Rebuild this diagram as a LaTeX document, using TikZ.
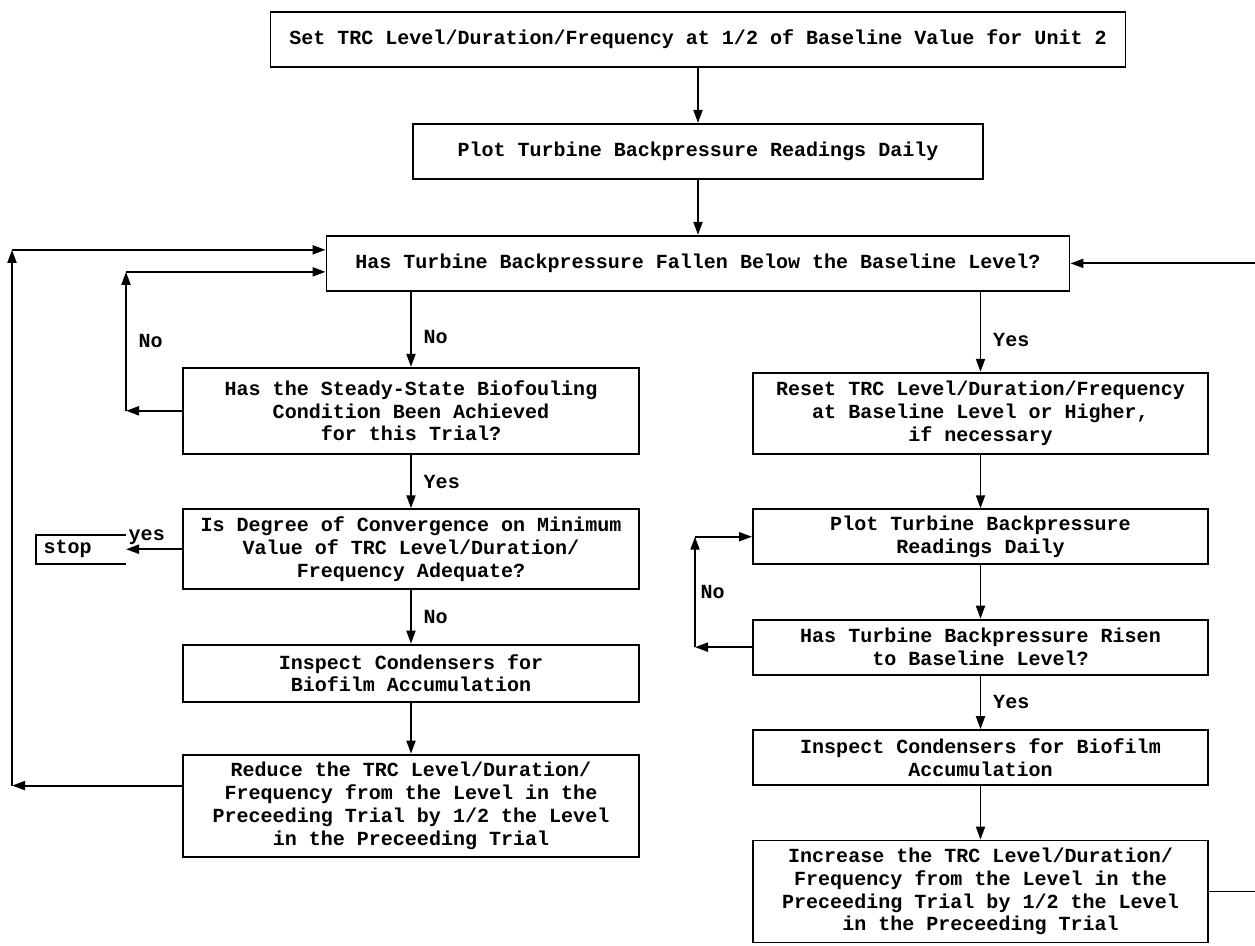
\documentclass[tikz,border=0pt]{standalone}
\usepackage{fontspec}
\setmonofont{Liberation Mono}
\usepackage{tikz}
\usetikzlibrary{arrows.meta, positioning}

\tikzstyle{flowbox} = [rectangle, draw=black, line width=1.1pt,
minimum height=1.1cm, inner xsep=0.2cm, inner ysep=0.1cm,
align=center, font=\ttfamily\bfseries\fontsize{11.4}{13}\selectfont]
\tikzstyle{stopbox} = [rectangle, inner xsep=0.14cm, inner ysep=0pt,
minimum height=0.56cm, text width=1.5cm, align=left,
font=\ttfamily\bfseries\fontsize{11.4}{13}\selectfont]
\tikzstyle{tag} = [inner sep=1pt, font=\ttfamily\bfseries\fontsize{11.4}{13}\selectfont]
\tikzstyle{arrow} = [-{Triangle[length=2.6mm, width=1.8mm]}, line width=1.1pt]

\begin{document}
\begin{tikzpicture}[node distance=1.07cm]
    \useasboundingbox (0,0) rectangle (25.1,-18.92);

    \node (set) [flowbox, minimum width=17.1cm] at (13.96,-0.79)
    {Set TRC Level/Duration/Frequency at 1/2 of Baseline Value for Unit 2};
    \node (plot) [flowbox, below=1.1cm of set, minimum width=11.4cm]
    {Plot Turbine Backpressure Readings Daily};
    \node (fall) [flowbox, below=1.1cm of plot, minimum width=14.86cm]
    {Has Turbine Backpressure Fallen Below the Baseline Level?};

    % left branch
    \node (steady) [flowbox, below=1.5cm of fall, xshift=-5.74cm, minimum width=9.12cm, minimum height=1.72cm]
    {Has the Steady-State Biofouling\\Condition Been Achieved\\for this Trial?};
    \node (conv) [flowbox, below=of steady, minimum width=9.12cm, minimum height=1.6cm]
    {Is Degree of Convergence on Minimum\\Value of TRC Level/Duration/\\Frequency Adequate?};
    \node (insl) [flowbox, below=of conv, minimum width=9.12cm, minimum height=1.14cm]
    {Inspect Condensers for\\Biofilm Accumulation};
    \node (red) [flowbox, below=1.02cm of insl, minimum width=9.12cm, minimum height=2.04cm]
    {Reduce the TRC Level/Duration/\\Frequency from the Level in the\\Preceeding Trial by 1/2 the Level\\in the Preceeding Trial};
    \node (stop) [stopbox, left=1.12cm of conv] {stop};

    % right branch
    \node (reset) [flowbox, below=1.6cm of fall, xshift=5.65cm, minimum width=9.1cm, minimum height=1.62cm]
    {Reset TRC Level/Duration/Frequency\\at Baseline Level or Higher,\\if necessary};
    \node (plotr) [flowbox, below=of reset, minimum width=9.1cm]
    {Plot Turbine Backpressure\\Readings Daily};
    \node (rise) [flowbox, below=of plotr, minimum width=9.1cm]
    {Has Turbine Backpressure Risen\\to Baseline Level?};
    \node (insr) [flowbox, below=of rise, minimum width=9.1cm]
    {Inspect Condensers for Biofilm\\Accumulation};
    \node (inc) [flowbox, below=of insr, minimum width=9.1cm, minimum height=2.04cm]
    {Increase the TRC Level/Duration/\\Frequency from the Level in the\\Preceeding Trial by 1/2 the Level\\in the Preceeding Trial};

    \coordinate (lx) at (0.24,0);
    \coordinate (mx) at (2.52,0);
    \coordinate (rx) at (13.9,0);
    \coordinate (fallhi) at ([yshift=0.27cm]fall.west);
    \coordinate (falllo) at ([yshift=-0.17cm]fall.west);
    \coordinate (redout) at ([yshift=0.4cm]red.west);

    \draw[line width=1.1pt] (stop.north east) -- (stop.north west) -- (stop.south west) -- (stop.south east);

    \draw[arrow] (set) -- (plot);
    \draw[arrow] (plot) -- (fall);
    \draw[arrow] (fall.south -| steady) -- node[tag, right=0.2cm, pos=0.6] {No} (steady);
    \draw[arrow] (fall.south -| reset) -- node[tag, right=0.2cm, pos=0.6] {Yes} (reset);
    \draw[arrow] (steady) -- node[tag, right=0.2cm] {Yes} (conv);
    \draw[arrow] (conv) -- node[tag, above=1pt, pos=0.63] {yes} (stop);
    \draw[arrow] (conv) -- node[tag, right=0.2cm] {No} (insl);
    \draw[arrow] (insl) -- (red);
    \draw[arrow] (reset) -- (plotr);
    \draw[arrow] (plotr) -- (rise);
    \draw[arrow] (rise) -- node[tag, right=0.2cm] {Yes} (insr);
    \draw[arrow] (insr) -- (inc);

    % loops back
    \draw[arrow] (redout) -- (redout -| lx);
    \draw[arrow] (redout -| lx) -- (lx |- fallhi);
    \draw[arrow] (lx |- fallhi) -- (fallhi);
    \draw[arrow] (steady.west) -- (steady.west -| mx);
    \draw[arrow] (steady.west -| mx) -- node[tag, right=0.2cm] {No} (mx |- falllo);
    \draw[arrow] (mx |- falllo) -- (falllo);
    \draw[arrow] (rise.west) -- (rise.west -| rx);
    \draw[arrow] (rise.west -| rx) -- node[tag, right=0.06cm] {No} (rx |- plotr.west);
    \draw[arrow] (rx |- plotr.west) -- (plotr.west);
    \draw[arrow] (inc.east) -- ++(1,0) |- (fall.east);
\end{tikzpicture}
\end{document}
